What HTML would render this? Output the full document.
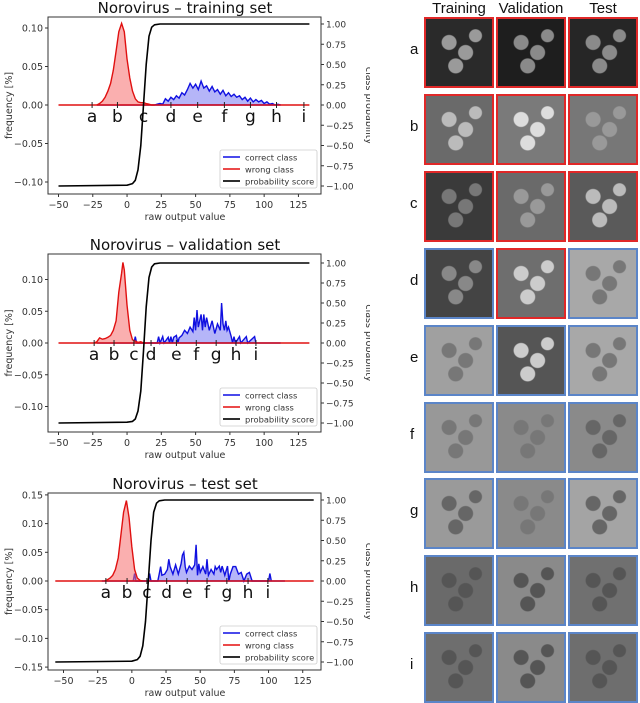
<!DOCTYPE html>
<html><head><meta charset="utf-8">
<style>
body{margin:0;background:#fff;width:640px;height:701px;overflow:hidden;position:relative;font-family:"Liberation Sans",sans-serif}
svg text{font-family:"DejaVu Sans","Liberation Sans",sans-serif}
.tile{position:absolute;width:66px;height:67px;border:2px solid #5b85c8;box-sizing:content-box}
.red{border-color:#e02828}
.hdr{position:absolute;top:0;font-size:15px;color:#111;font-family:"Liberation Sans",sans-serif}
.rl{position:absolute;left:410px;font-size:15px;color:#111}
</style></head><body>
<svg id="charts" width="370" height="701" style="position:absolute;left:0;top:0"></svg>
<div id="grid"></div>
<script>
// ---------- data ----------
const trainWrongX=[-22,-20,-18,-16,-14,-12,-10,-8,-6,-4,-2,0,2,4,6,8,10,12,14,16,18,20];
const trainWrongY=[0,0.002,0.005,0.01,0.018,0.028,0.045,0.07,0.095,0.106,0.095,0.06,0.035,0.018,0.008,0.004,0.003,0.003,0.002,0.001,0,0];
const trainCorrX=[20,22,24,26,28,30,32,34,36,38,40,42,44,46,48,50,52,54,56,58,60,62,64,66,68,70,72,74,76,78,80,82,84,86,88,90,92,94,96,98,100,102,104,106,108,110,112];
const trainCorrY=[0,0.001,0.002,0.001,0.008,0.005,0.01,0.007,0.012,0.009,0.016,0.013,0.02,0.028,0.022,0.027,0.02,0.031,0.022,0.025,0.018,0.024,0.017,0.02,0.014,0.019,0.012,0.016,0.011,0.014,0.01,0.012,0.007,0.01,0.005,0.009,0.004,0.007,0.004,0.006,0.002,0.004,0.001,0.002,0,0.001,0];
const valWrongX=[-24,-22,-20,-18,-16,-14,-12,-10,-8,-6,-4,-3,-2,0,2,4,6,8,10,12,14];
const valWrongY=[0,0.002,0.008,0.006,0.007,0.009,0.012,0.02,0.035,0.08,0.11,0.127,0.115,0.06,0.02,0.005,0.003,0.001,0.002,0,0];
const valCorrX=[5,6,7,22,23,24,26,27,30,31,32,33,34,36,37,38,40,42,44,46,48,49,50,51,52,54,55,56,57,58,60,62,64,66,68,69,70,71,72,73,74,76,77,78,79,82,83,87,88,93,94];
const valCorrY=[0,0.01,0,0,0.01,0,0.01,0,0.009,0,0.01,0,0.009,0.012,0,0.008,0.012,0.02,0.015,0.025,0.018,0.04,0.02,0.052,0.025,0.045,0.02,0.045,0.025,0.04,0.02,0.035,0.015,0.03,0.02,0.063,0.03,0.02,0.035,0.02,0.025,0.01,0,0.01,0,0.01,0,0.01,0,0.01,0];
const testWrongX=[-20,-18,-16,-14,-12,-10,-8,-6,-4,-2,0,2,4,6,8];
const testWrongY=[0,0.002,0.005,0.01,0.02,0.04,0.08,0.12,0.14,0.11,0.06,0.02,0.005,0.001,0];
const testCorrX=[1,2,3,12,13,14,19,20,21,22,24,26,27,28,30,32,34,36,37,38,39,40,42,44,46,47,48,49,50,52,54,55,56,58,60,61,62,64,65,66,68,70,71,72,74,76,78,80,82,84,86,88,100,101,102];
const testCorrY=[0,0.013,0,0,0.013,0,0,0.012,0.025,0.01,0.012,0.02,0.038,0.025,0.012,0.028,0.012,0.03,0.045,0.05,0.025,0.015,0.026,0.02,0.028,0.063,0.01,0.03,0.015,0.025,0.012,0.038,0.01,0.02,0.012,0.025,0.02,0.026,0.015,0.026,0.01,0.026,0,0.012,0.025,0.025,0.012,0.015,0,0.012,0.015,0,0,0.013,0];
const sigX=[-50,0,4,6,8,10,12,14,16,18,20,24,133];
const trainSigY=[-1,-0.99,-0.97,-0.93,-0.8,-0.5,0,0.5,0.85,0.96,0.99,1,1];
const valSigY=[-1,-0.99,-0.98,-0.95,-0.85,-0.6,-0.1,0.45,0.82,0.95,0.99,1,1];
const testSigY=[-1,-0.99,-0.97,-0.93,-0.8,-0.5,0,0.5,0.85,0.96,0.99,1,1];
const letters=["a","b","c","d","e","f","g","h","i"];
const trainLetterX=[-25.5,-7,12,32,51.5,71,90,109,129];
const valLetterX=[-24,-9.5,5,17.5,36,50.5,65,79.5,94];
const testLetterX=[-19,-3.5,11,25.5,40.5,55,69.5,85,99.5];
const xTicks=[-50,-25,0,25,50,75,100,125];
const rightTicks=[1,0.75,0.5,0.25,0,-0.25,-0.5,-0.75,-1];
const trainLeftTicks=[0.10,0.05,0,-0.05,-0.10];
const valLeftTicks=[0.10,0.05,0,-0.05,-0.10];
const testLeftTicks=[0.15,0.10,0.05,0,-0.05,-0.10,-0.15];

const NS="http://www.w3.org/2000/svg";
const svg=document.getElementById('charts');
function el(tag,attrs,parent){const e=document.createElementNS(NS,tag);for(const k in attrs)e.setAttribute(k,attrs[k]);(parent||svg).appendChild(e);return e;}
function fmt(v,d){let s=Math.abs(v).toFixed(d);return (v<0?"\u2212":"")+s;}

function chart(c){
  const g=el('g',{});
  
  
  const X=v=>c.x0+(v+50)*c.xs;
  const Y=v=>c.zero-v*c.ys;
  const YR=v=>c.zero-v*c.rs;
  const t=el('text',{x:185,y:c.top-4,'text-anchor':'middle','font-size':15,fill:'#111','font-family':'Liberation Sans'},g);t.textContent=c.title;
  
  function series(xs,ys,stroke,fill,nm){
    let pts=xs.map((x,i)=>X(x).toFixed(1)+','+Y(ys[i]).toFixed(1));
    const a=el('polygon',{points:X(xs[0])+','+Y(0)+' '+pts.join(' ')+' '+X(xs[xs.length-1])+','+Y(0),fill:fill,stroke:'none'},g);
    
    const l=el('polyline',{points:pts.join(' '),fill:'none',stroke:stroke,'stroke-width':1.4},g);
    
  }
  series(c.cx,c.cy,'#1010e0','rgba(90,90,240,0.45)','correct-class');
  el('line',{x1:X(-22),x2:X(112),y1:Y(0),y2:Y(0),stroke:'#1010e0','stroke-width':1.4},g);
  series(c.wx,c.wy,'#e01010','rgba(245,110,110,0.55)','wrong-class');
  el('line',{x1:X(c.xmin),x2:X(133),y1:Y(0),y2:Y(0),stroke:'#e01010','stroke-width':1.4},g);
  c.lx.forEach((v,i)=>{
    el('line',{x1:X(v),x2:X(v),y1:Y(0)-3,y2:Y(0)+3,stroke:'#222','stroke-width':1},g);
    const tt=el('text',{x:X(v),y:Y(0)+17,'text-anchor':'middle','font-size':17,fill:'#111','font-family':'Liberation Sans'},g);
    tt.textContent=letters[i];
    
  });
  const sp=c.sx.map((x,i)=>X(x===-50?c.xmin:x).toFixed(1)+','+YR(c.sy[i]).toFixed(1)).join(' ');
  const s=el('polyline',{points:sp,fill:'none',stroke:'#000','stroke-width':1.6,'stroke-linejoin':'round'},g);
  
  el('rect',{x:48,y:c.top,width:273,height:c.bot-c.top,fill:'none',stroke:'#333','stroke-width':1},g);
  xTicks.forEach(v=>{el('line',{x1:X(v),x2:X(v),y1:c.bot,y2:c.bot+3,stroke:'#333'},g);
    const tx=el('text',{x:X(v),y:c.bot+14,'text-anchor':'middle','font-size':9.5,fill:'#333'},g);tx.textContent=fmt(v,0);});
  c.lt.forEach(v=>{el('line',{x1:45,x2:48,y1:Y(v),y2:Y(v),stroke:'#333'},g);
    const tx=el('text',{x:43,y:Y(v)+3.5,'text-anchor':'end','font-size':9.5,fill:'#333'},g);tx.textContent=fmt(v,2);});
  rightTicks.forEach(v=>{el('line',{x1:321,x2:324,y1:YR(v),y2:YR(v),stroke:'#333'},g);
    const tx=el('text',{x:326,y:YR(v)+3.5,'font-size':9,fill:'#333'},g);tx.textContent=fmt(v,2);});
  const xl=el('text',{x:185,y:c.bot+26,'text-anchor':'middle','font-size':9.5,fill:'#333'},g);xl.textContent='raw output value';
  
  const mid=(c.top+c.bot)/2;
  const yl=el('text',{x:12,y:mid,'text-anchor':'middle','font-size':9.5,fill:'#333',transform:'rotate(-90 12 '+mid+')'},g);yl.textContent='frequency [%]';
  
  const yr=el('text',{x:366,y:mid,'text-anchor':'middle','font-size':9.5,fill:'#333',transform:'rotate(90 366 '+mid+')'},g);yr.textContent='class probability';
  
  const lg=el('g',{},g);
  
  const ly=c.bot-44;
  el('rect',{x:220,y:ly,width:97,height:38,fill:'#fff',stroke:'#ccc','stroke-width':0.8,rx:2},lg);
  [['correct class','#3030e8'],['wrong class','#e83030'],['probability score','#111']].forEach((e,i)=>{
    el('line',{x1:223,x2:240,y1:ly+7+i*12,y2:ly+7+i*12,stroke:e[1],'stroke-width':1.8},lg);
    const tx=el('text',{x:245,y:ly+10.5+i*12,'font-size':8.3,fill:'#333'},lg);tx.textContent=e[0];
  });
}
chart({name:'training-chart',title:'Norovirus \u2013 training set',top:17,bot:194,x0:58.5,xs:1.371,zero:105,ys:770,rs:81,xmin:-50,
  wx:trainWrongX,wy:trainWrongY,cx:trainCorrX,cy:trainCorrY,sx:sigX,sy:trainSigY,lx:trainLetterX,lt:trainLeftTicks});
chart({name:'validation-chart',title:'Norovirus \u2013 validation set',top:254,bot:432,x0:58.5,xs:1.371,zero:343,ys:635,rs:80,xmin:-50,
  wx:valWrongX,wy:valWrongY,cx:valCorrX,cy:valCorrY,sx:sigX,sy:valSigY,lx:valLetterX,lt:valLeftTicks});
chart({name:'test-chart',title:'Norovirus \u2013 test set',top:493,bot:670,x0:63.5,xs:1.367,zero:581,ys:574,rs:81,xmin:-56,
  wx:testWrongX,wy:testWrongY,cx:testCorrX,cy:testCorrY,sx:sigX,sy:testSigY,lx:testLetterX,lt:testLeftTicks});

// ---------- image grid ----------
const grid=document.getElementById('grid');
const cols=[424,496,568];
const tones=[
 ['#2a2a2a','#1e1e1e','#262626'],
 ['#6a6a6a','#7a7a7a','#777'],
 ['#3a3a3a','#6a6a6a','#5a5a5a'],
 ['#444','#6e6e6e','#a8a8a8'],
 ['#a0a0a0','#555','#a8a8a8'],
 ['#989898','#8a8a8a','#8a8a8a'],
 ['#9a9a9a','#8a8a8a','#a4a4a4'],
 ['#6a6a6a','#8a8a8a','#707070'],
 ['#6e6e6e','#8a8a8a','#6e6e6e']];
const circ=[
 ['#9a9a9a','#8a8a8a','#8a8a8a'],['#bbb','#ddd','#999'],['#777','#999','#bbb'],
 ['#888','#ccc','#777'],['#777','#ccc','#777'],['#777','#777','#666'],['#666','#777','#666'],['#555','#555','#555'],['#555','#555','#555']];
['Training','Validation','Test'].forEach((h,i)=>{
  const d=document.createElement('div');d.className='hdr';d.textContent=h;
  d.style.left=(cols[i]+35)+'px';d.style.transform='translateX(-50%)';
  
  
  grid.appendChild(d);
});
letters.forEach((L,r)=>{
  const top=17+r*76.9;
  const lab=document.createElement('div');lab.className='rl';lab.textContent=L;lab.style.top=(top+24)+'px';
  
  
  grid.appendChild(lab);
  cols.forEach((x,c)=>{
    const t=document.createElement('div');
    const red=(r<3)||(r===3&&c===1);
    t.className='tile'+(red?' red':'');
    t.style.left=x+'px';t.style.top=top+'px';
    const cc=circ[r][c];
    t.style.background=`radial-gradient(circle at 35% 35%, ${cc} 0 7px, transparent 8px),radial-gradient(circle at 60% 50%, ${cc} 0 7px, transparent 8px),radial-gradient(circle at 45% 70%, ${cc} 0 7px, transparent 8px),radial-gradient(circle at 75% 25%, ${cc} 0 6px, transparent 7px),${tones[r][c]}`;
    
    
    grid.appendChild(t);
  });
});
</script>
</body></html>
